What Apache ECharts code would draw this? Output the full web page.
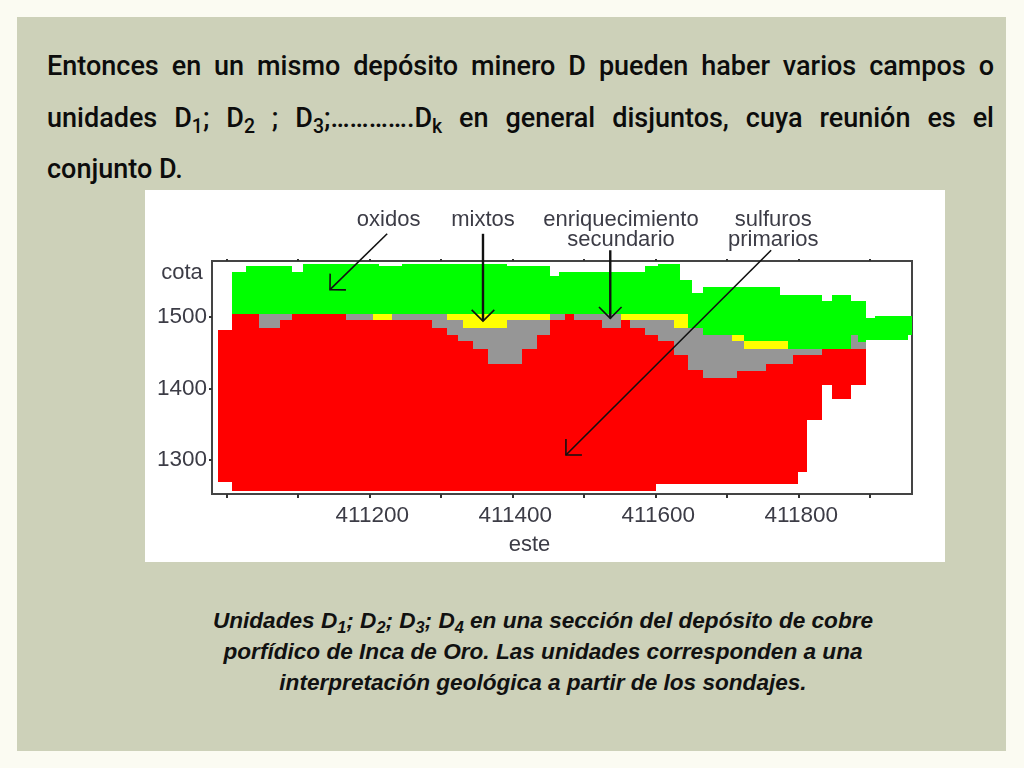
<!DOCTYPE html>
<html>
<head>
<meta charset="utf-8">
<script src="https://cdn.jsdelivr.net/npm/echarts@6/dist/echarts.min.js"></script>
<style>
	html, body { margin: 0; padding: 0; width: 1024px; height: 768px; background: #fbfbf2; overflow: hidden; }
	#panel { position: absolute; left: 17px; top: 17px; width: 989px; height: 734px; background: #cdd1b9; }
	.line { position: absolute; left: 47px; width: 947px; height: 52px; font: 500 27px/52px Roboto, "Liberation Sans", sans-serif; color: #0c0c0c; white-space: normal; }
	.just { text-align: justify; text-align-last: justify; }
	.cap { position: absolute; left: 143px; width: 800px; text-align: center; font: italic 700 22.6px/31px "Liberation Sans", sans-serif; color: #111; }
	sub { font-size: 72%; line-height: 0; vertical-align: -0.3em; }
	#chart { position: absolute; left: 145px; top: 190px; width: 800px; height: 372px; background: #fff; filter: blur(0.4px); }
</style>
</head>
<body>
<div id="panel"></div>
<div class="line just" style="top:40px">Entonces en un mismo depósito minero D pueden haber varios campos o</div>
<div class="line just" style="top:92px">unidades D<sub>1</sub>; D<sub>2</sub> ; D<sub>3</sub>;………….D<sub>k</sub> en general disjuntos, cuya reunión es el</div>
<div class="line" style="top:143px">conjunto D.</div>
<div id="chart"></div>
<div class="cap" style="top:605px">Unidades D<sub>1</sub>; D<sub>2</sub>; D<sub>3</sub>; D<sub>4</sub> en una sección del depósito de cobre</div>
<div class="cap" style="top:636px">porfídico de Inca de Oro. Las unidades corresponden a una</div>
<div class="cap" style="top:667px">interpretación geológica a partir de los sondajes.</div>
<script>
// column edges along "este"
var xEdges = [410988, 411008, 411028, 411046, 411075, 411092, 411107, 411168, 411205, 411214,
	411232, 411246, 411288, 411308, 411324, 411331, 411345, 411366, 411393, 411413,
	411434, 411453, 411465, 411474, 411486, 411526, 411552, 411565, 411585, 411601,
	411604, 411626, 411635, 411646, 411652, 411667, 411707, 411714, 411724, 411755,
	411775, 411786, 411792, 411800, 411812, 411833, 411847, 411874, 411884, 411895,
	411907, 411953, 411959];

// cota of each boundary, one value per column (10 per row)
var oxidoTop = [1481, 1563, 1571, 1571, 1571, 1563, 1574, 1574, 1574, 1571,
	1571, 1574, 1574, 1574, 1574, 1574, 1574, 1574, 1571, 1571,
	1571, 1557, 1563, 1563, 1563, 1563, 1563, 1563, 1571, 1571,
	1574, 1574, 1551, 1551, 1533, 1542, 1542, 1542, 1542, 1542,
	1530, 1530, 1530, 1530, 1530, 1522, 1530, 1522, 1522, 1498,
	1501, 1501];
var oxidoBase = [1481, 1504, 1504, 1504, 1504, 1504, 1504, 1504, 1504, 1504,
	1504, 1504, 1504, 1504, 1504, 1504, 1504, 1504, 1504, 1504,
	1504, 1504, 1504, 1504, 1504, 1504, 1504, 1504, 1504, 1504,
	1504, 1504, 1504, 1484, 1484, 1475, 1475, 1475, 1466, 1466,
	1466, 1455, 1455, 1455, 1455, 1455, 1455, 1475, 1465, 1467,
	1467, 1475];
var mixtoBase = [1481, 1504, 1504, 1504, 1504, 1504, 1504, 1504, 1495, 1495,
	1504, 1504, 1504, 1495, 1495, 1484, 1484, 1484, 1495, 1495,
	1495, 1504, 1504, 1504, 1504, 1504, 1495, 1495, 1495, 1495,
	1495, 1484, 1484, 1484, 1484, 1475, 1466, 1466, 1455, 1455,
	1455, 1455, 1455, 1455, 1455, 1455, 1455, 1475, 1465, 1467,
	1467, 1475];
var enriqBase = [1481, 1504, 1504, 1484, 1495, 1504, 1504, 1495, 1495, 1495,
	1495, 1495, 1484, 1475, 1466, 1466, 1455, 1434, 1434, 1455,
	1475, 1495, 1495, 1504, 1495, 1484, 1495, 1484, 1475, 1475,
	1466, 1447, 1447, 1426, 1426, 1414, 1414, 1425, 1425, 1434,
	1434, 1434, 1447, 1447, 1447, 1455, 1455, 1455, 1455, 1467,
	1467, 1475];
var sulfuroBase = [1269, 1257, 1257, 1257, 1257, 1257, 1257, 1257, 1257, 1257,
	1257, 1257, 1257, 1257, 1257, 1257, 1257, 1257, 1257, 1257,
	1257, 1257, 1257, 1257, 1257, 1257, 1257, 1257, 1257, 1266,
	1266, 1266, 1266, 1266, 1266, 1266, 1266, 1266, 1266, 1266,
	1266, 1266, 1266, 1283, 1356, 1405, 1385, 1405, 1405, 1467,
	1467, 1475];

var xTicks = [411000, 411100, 411200, 411300, 411400, 411500, 411600, 411700, 411800, 411900];
var xLabels = [411200, 411400, 411600, 411800];
var yTicks = [1300, 1400, 1500];

// texts around the section
var noteText = ['oxidos', 'mixtos', 'enriquecimiento\nsecundario', 'sulfuros\nprimarios', 'cota', 'este'];
var noteX = [411227, 411359, 411552, 411765, 410938, 411424];
var noteY = [1636, 1636, 1622, 1622, 1561, 1181];

// arrows from the texts to the units
var arrowFromX = [411225, 411359, 411537, 411762];
var arrowFromY = [1616, 1616, 1593, 1593];
var arrowToX = [411145, 411359, 411537, 411475];
var arrowToY = [1538, 1494, 1498, 1307];

var layerColor = { oxido: '#00ff00', mixto: '#ffff00', enriq: '#969696', sulfuro: '#ff0000' };

function layerRows(topVals, baseVals) {
	var rows = [];
	for (var i = 0; i < topVals.length; i++) {
		if (topVals[i] > baseVals[i]) {
			rows.push([xEdges[i], xEdges[i + 1], topVals[i], baseVals[i]]);
		}
	}
	return rows;
}

function layerSeries(name, rows) {
	return {
		type: 'custom',
		name: name,
		data: rows,
		clip: false,
		encode: { x: [0, 1], y: [2, 3] },
		renderItem: function(params, api) {
			var a = api.coord([api.value(0), api.value(2)]);
			var b = api.coord([api.value(1), api.value(3)]);
			var x0 = Math.round(a[0]), y0 = Math.round(a[1]);
			return {
				type: 'rect',
				shape: { x: x0, y: y0, width: Math.round(b[0]) - x0, height: Math.round(b[1]) - y0 },
				style: { fill: layerColor[name] }
			};
		}
	};
}

function noteRows() {
	var rows = [];
	for (var i = 0; i < noteText.length; i++) rows.push([noteX[i], noteY[i]]);
	return rows;
}

function arrowRows() {
	var rows = [];
	for (var i = 0; i < arrowFromX.length; i++) rows.push([arrowFromX[i], arrowFromY[i], arrowToX[i], arrowToY[i]]);
	return rows;
}

var chart = echarts.init(document.getElementById('chart'));

var tickFormat = function(v) { return '' + v; };
var labelStyle = { color: '#3c3c46', fontFamily: '"Liberation Sans"', fontSize: 22.5 };

var option = {
	animation: false,
	grid: { left: 67, top: 71, width: 700, height: 233, show: true, borderColor: '#444', borderWidth: 2, backgroundColor: '#fff' },
	xAxis: [{
		type: 'value', min: 410980, max: 411959, position: 'bottom',
		axisLine: { show: false, onZero: false },
		splitLine: { show: false },
		axisTick: { show: true, length: 4, customValues: xTicks, lineStyle: { color: '#333', width: 2 } },
		axisLabel: Object.assign({ show: true, margin: 10, padding: [0, 0, 0, 6], customValues: xLabels, formatter: tickFormat }, labelStyle)
	}, {
		type: 'value', min: 410980, max: 411959, position: 'top',
		axisLine: { show: false, onZero: false },
		splitLine: { show: false },
		axisTick: { show: true, length: 2, customValues: xTicks, lineStyle: { color: '#333', width: 2 } },
		axisLabel: { show: false }
	}],
	yAxis: {
		type: 'value', min: 1252.5, max: 1578,
		axisLine: { show: false, onZero: false },
		splitLine: { show: false },
		axisTick: { show: true, length: 3, customValues: yTicks, lineStyle: { color: '#333', width: 2 } },
		axisLabel: Object.assign({ show: true, margin: 5, customValues: yTicks, formatter: tickFormat }, labelStyle)
	},
	series: [
		layerSeries('oxido', layerRows(oxidoTop, oxidoBase)),
		layerSeries('mixto', layerRows(oxidoBase, mixtoBase)),
		layerSeries('enriq', layerRows(mixtoBase, enriqBase)),
		layerSeries('sulfuro', layerRows(enriqBase, sulfuroBase)),
		{
			type: 'custom',
			name: 'flechas',
			data: arrowRows(),
			clip: false,
			z: 5,
			encode: { x: [0, 2], y: [1, 3] },
			renderItem: function(params, api) {
				var from = api.coord([api.value(0), api.value(1)]);
				var to = api.coord([api.value(2), api.value(3)]);
				var ang = Math.atan2(from[1] - to[1], from[0] - to[0]);
				var arm = 16;
				var w = from[0] === to[0] ? 2.4 : 1.6;
				return {
					type: 'group',
					children: [{
						type: 'line',
						shape: { x1: from[0], y1: from[1], x2: to[0], y2: to[1] },
						style: { stroke: '#111', lineWidth: w, fill: null }
					}, {
						type: 'polyline',
						shape: { points: [
							[to[0] + arm * Math.cos(ang - Math.PI / 4), to[1] + arm * Math.sin(ang - Math.PI / 4)],
							to,
							[to[0] + arm * Math.cos(ang + Math.PI / 4), to[1] + arm * Math.sin(ang + Math.PI / 4)]
						] },
						style: { stroke: '#111', lineWidth: 1.6, fill: null }
					}]
				};
			}
		},
		{
			type: 'custom',
			name: 'textos',
			data: noteRows(),
			clip: false,
			z: 6,
			encode: { x: 0, y: 1 },
			renderItem: function(params, api) {
				var p = api.coord([api.value(0), api.value(1)]);
				return {
					type: 'text',
					x: p[0],
					y: p[1],
					style: {
						text: noteText[params.dataIndex],
						fill: '#3c3c46',
						font: '22px "Liberation Sans"',
						lineHeight: 20,
						align: 'center',
						verticalAlign: 'middle'
					}
				};
			}
		}
	]
};

chart.setOption(option);
</script>
</body>
</html>
